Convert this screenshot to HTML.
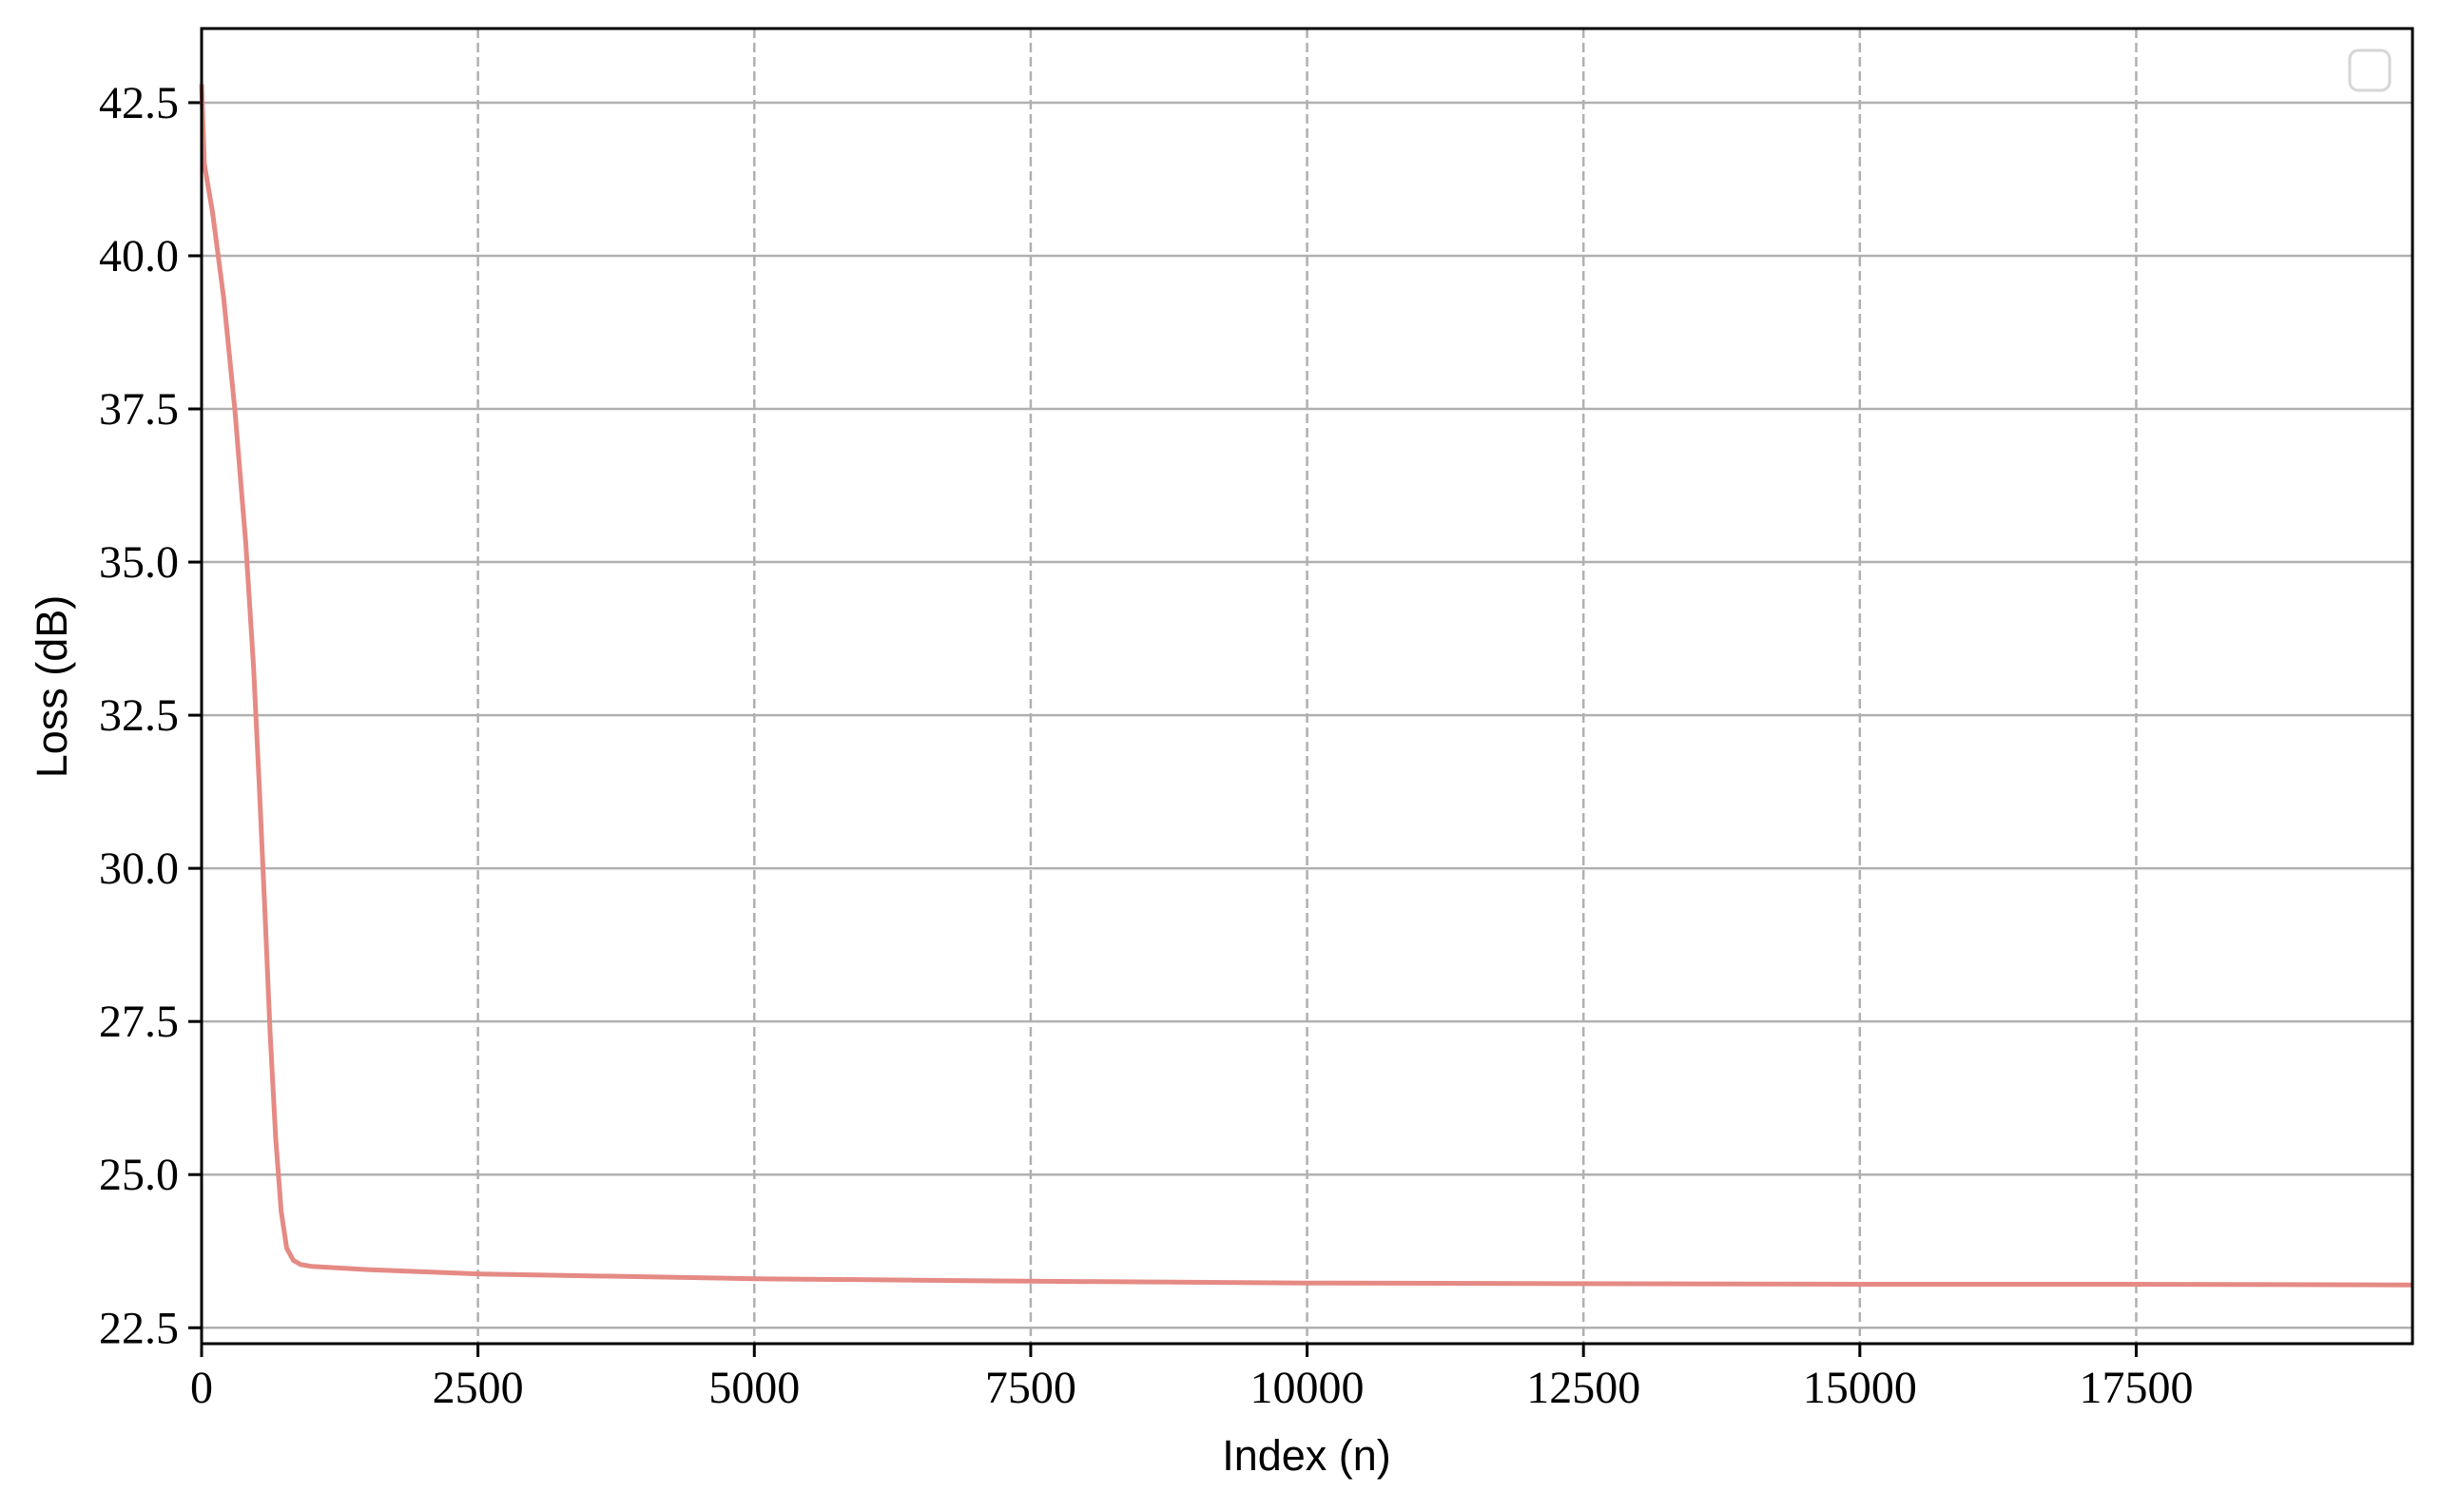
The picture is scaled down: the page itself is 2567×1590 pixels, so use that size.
<!DOCTYPE html>
<html><head><meta charset="utf-8"><style>
body{margin:0;background:#fff}
svg text{fill:#000}
.tk{font-family:"Liberation Serif",serif;font-size:48px}
.lb{font-family:"Liberation Sans",sans-serif;font-size:45px}
</style></head><body>
<svg id="chart" width="2567" height="1585" xmlns="http://www.w3.org/2000/svg">
<g id="grid"></g>
<g id="ticks"></g>
<path id="line" fill="none" stroke="#e58a84" stroke-width="5" stroke-linejoin="round"/>
<rect x="212" y="30" width="2325" height="1383" fill="none" stroke="#000" stroke-width="3"/>
<rect x="2471" y="53" width="42" height="42" rx="9" fill="#fff" stroke="#d6d6d6" stroke-width="3"/>
<text class="lb" x="1374" y="1546" text-anchor="middle">Index (n)</text>
<text class="lb" transform="translate(70,722) rotate(-90)" text-anchor="middle">Loss (dB)</text>
</svg>
<script>
const xs=[0,25,100,200,300,400,470,520,570,620,670,720,770,830,900,1000,1500,2500,5000,7500,10000,12500,15000,17500,19999];
const ys=[42.8,41.5,40.7,39.3,37.5,35.3,33.3,31.4,29.4,27.3,25.6,24.4,23.8,23.6,23.53,23.5,23.45,23.38,23.30,23.26,23.23,23.22,23.21,23.21,23.20];
const xTicks=[0,2500,5000,7500,10000,12500,15000,17500];
const yTicks=[22.5,25.0,27.5,30.0,32.5,35.0,37.5,40.0,42.5];
const X0=212,X1=2537,Y0=30,Y1=1413,XMIN=0,XMAX=19999,YMIN=22.24,YMAX=43.71;
function sx(v){return X0+(v-XMIN)/(XMAX-XMIN)*(X1-X0);}
function sy(v){return Y1-(v-YMIN)/(YMAX-YMIN)*(Y1-Y0);}
const NS="http://www.w3.org/2000/svg";
const grid=document.getElementById('grid'),ticks=document.getElementById('ticks');
function mk(tag,attrs,parent){const e=document.createElementNS(NS,tag);for(const k in attrs)e.setAttribute(k,attrs[k]);parent.appendChild(e);return e;}
xTicks.forEach(t=>{const x=sx(t);
 const g=mk('line',{x1:x,x2:x,y1:Y0,y2:Y1,stroke:'#b0b0b0','stroke-width':2.5,'stroke-dasharray':'10,5'},grid);
 
 
 const l=mk('line',{x1:x,x2:x,y1:Y1,y2:Y1+14,stroke:'#000','stroke-width':3},ticks);
 
 
 const tx=mk('text',{x:x,y:Y1+62,'text-anchor':'middle',class:'tk'},ticks);tx.textContent=t;
 
 
});
yTicks.forEach(t=>{const y=sy(t);
 const g=mk('line',{x1:X0,x2:X1,y1:y,y2:y,stroke:'#b0b0b0','stroke-width':2.5},grid);
 
 
 const l=mk('line',{x1:X0-14,x2:X0,y1:y,y2:y,stroke:'#000','stroke-width':3},ticks);
 
 
 const tx=mk('text',{x:X0-24,y:y+16,'text-anchor':'end',class:'tk'},ticks);tx.textContent=t.toFixed(1);
 
 
});
document.getElementById('line').setAttribute('d',xs.map((v,i)=>(i?'L':'M')+sx(v).toFixed(1)+','+sy(ys[i]).toFixed(1)).join(''));
</script>
</body></html>
